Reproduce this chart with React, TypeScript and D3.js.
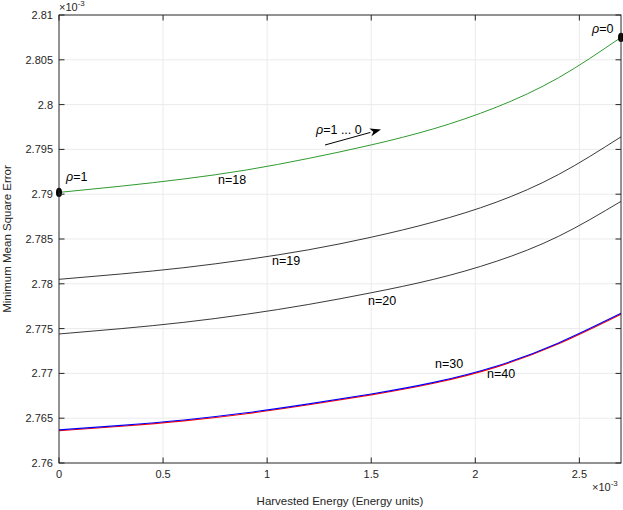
import { useEffect, useRef } from "react";
import * as d3 from "d3";

// harvested energy (x 1e-3)
const energy = [0, 0.3, 0.6, 0.9, 1.2, 1.5, 1.8, 2.1, 2.4, 2.7];

// minimum mean square error (x 1e-3)
const mmseRho = [2.7902, 2.7909, 2.7917, 2.7927, 2.794, 2.7955, 2.7973, 2.7997, 2.803, 2.8075];
const mmseN19 = [2.7805, 2.7811, 2.7818, 2.7827, 2.7838, 2.7852, 2.7869, 2.7891, 2.7922, 2.7964];
const mmseN20 = [2.7744, 2.775, 2.7757, 2.7766, 2.7777, 2.779, 2.7805, 2.7825, 2.7853, 2.7892];
const mmseN30 = [2.7637, 2.7642, 2.7648, 2.7656, 2.7666, 2.7677, 2.769, 2.7708, 2.7734, 2.7767];
const mmseN40 = [2.7636, 2.7641, 2.7647, 2.7655, 2.7665, 2.7676, 2.7689, 2.7707, 2.7733, 2.7766];

const xTicks = [0, 0.5, 1, 1.5, 2, 2.5];
const yTicks = [2.76, 2.765, 2.77, 2.775, 2.78, 2.785, 2.79, 2.795, 2.8, 2.805, 2.81];

const width = 623;
const height = 510;
const m = { top: 15, right: 2, bottom: 47, left: 59 };
const font = "'Liberation Sans', Arial, Helvetica, sans-serif";
const axisColor = "#262626";

export default function App() {
  const ref = useRef<SVGSVGElement | null>(null);

  useEffect(() => {
    if (!ref.current) return;
    const svg = d3.select(ref.current);
    svg.selectAll("*").remove();

    const x = d3.scaleLinear().domain([0, 2.7]).range([m.left, width - m.right]);
    const y = d3.scaleLinear().domain([2.76, 2.81]).range([height - m.bottom, m.top]);
    const [x0, x1] = x.range();
    const [y0, y1] = y.range();

    svg.append("rect").attr("x", x0).attr("y", y1).attr("width", x1 - x0).attr("height", y0 - y1).attr("fill", "#fff");

    // grid
    const grid = svg.append("g").attr("stroke", "#ebebeb").attr("stroke-width", 1);
    xTicks.slice(1).forEach((t) => {
      grid.append("line").attr("x1", x(t)).attr("x2", x(t)).attr("y1", y0).attr("y2", y1);
    });
    yTicks.slice(1, -1).forEach((t) => {
      grid.append("line").attr("x1", x0).attr("x2", x1).attr("y1", y(t)).attr("y2", y(t));
    });

    // curves
    const line = d3
      .line<number>()
      .x((_, i) => x(energy[i]))
      .y((d) => y(d))
      .curve(d3.curveNatural);

    const series: [number[], string, number][] = [
      [mmseRho, "#2f9a2f", 1],
      [mmseN19, "#222", 0.9],
      [mmseN20, "#222", 0.9],
      [mmseN40, "#ff0000", 1.1],
      [mmseN30, "#0000ff", 1.1],
    ];
    series.forEach(([vals, color, w]) => {
      svg.append("path").datum(vals).attr("d", line).attr("fill", "none").attr("stroke", color).attr("stroke-width", w);
    });

    // end markers on rho curve
    [0, energy.length - 1].forEach((i) => {
      svg.append("ellipse").attr("cx", x(energy[i])).attr("cy", y(mmseRho[i])).attr("rx", 3).attr("ry", 4.6).attr("fill", "#000");
    });

    // axes box with inward ticks
    const ax = svg.append("g").attr("stroke", axisColor).attr("stroke-width", 1).attr("fill", "none");
    ax.append("rect").attr("x", x0).attr("y", y1).attr("width", x1 - x0).attr("height", y0 - y1);
    const tl = 5.5;
    xTicks.forEach((t) => {
      ax.append("line").attr("x1", x(t)).attr("x2", x(t)).attr("y1", y0).attr("y2", y0 - tl);
      ax.append("line").attr("x1", x(t)).attr("x2", x(t)).attr("y1", y1).attr("y2", y1 + tl);
    });
    yTicks.forEach((t) => {
      ax.append("line").attr("x1", x0).attr("x2", x0 + tl).attr("y1", y(t)).attr("y2", y(t));
      ax.append("line").attr("x1", x1).attr("x2", x1 - tl).attr("y1", y(t)).attr("y2", y(t));
    });

    const txt = svg.append("g").attr("font-family", font).attr("fill", axisColor);
    xTicks.forEach((t) => {
      txt.append("text").attr("x", x(t)).attr("y", y0 + 15).attr("text-anchor", "middle").attr("font-size", 11).text(d3.format("~g")(t));
    });
    yTicks.forEach((t) => {
      txt.append("text").attr("x", x0 - 6).attr("y", y(t) + 4).attr("text-anchor", "end").attr("font-size", 11).text(d3.format("~g")(t));
    });

    // exponent labels
    const expo = (ex: number, ey: number) => {
      const t = txt.append("text").attr("x", ex).attr("y", ey).attr("font-size", 11);
      t.append("tspan").text("×10");
      t.append("tspan").attr("dy", -5).attr("font-size", 8).text("-3");
    };
    expo(x0, y1 - 4);
    expo(x1 - 29, y0 + 28);

    txt.append("text").attr("x", (x0 + x1) / 2).attr("y", 505).attr("text-anchor", "middle").attr("font-size", 11.5).text("Harvested Energy (Energy units)");
    txt
      .append("text")
      .attr("transform", `translate(11,${(y0 + y1) / 2}) rotate(-90)`)
      .attr("text-anchor", "middle")
      .attr("font-size", 11.5)
      .text("Minimum Mean Square Error");

    // annotations
    const ann = svg.append("g").attr("font-family", font).attr("fill", "#000").attr("font-size", 12.5);
    const rhoText = (tx: number, ty: number, rest: string) => {
      const t = ann.append("text").attr("x", tx).attr("y", ty);
      t.append("tspan").attr("font-style", "italic").text("ρ");
      t.append("tspan").text(rest);
    };
    rhoText(66, 181, "=1");
    rhoText(592, 33, "=0");
    rhoText(316, 134, "=1 ... 0");

    ann.append("text").attr("x", 218).attr("y", 184).text("n=18");
    ann.append("text").attr("x", 272).attr("y", 265).text("n=19");
    ann.append("text").attr("x", 368).attr("y", 305).text("n=20");
    ann.append("text").attr("x", 435).attr("y", 368).text("n=30");
    ann.append("text").attr("x", 487).attr("y", 378).text("n=40");

    // arrow
    const ax1 = 325, ay1 = 145, ax2 = 381, ay2 = 129.5;
    const ang = Math.atan2(ay2 - ay1, ax2 - ax1);
    const hl = 11, hw = 4;
    const bx = ax2 - hl * Math.cos(ang), by = ay2 - hl * Math.sin(ang);
    svg.append("line").attr("x1", ax1).attr("y1", ay1).attr("x2", bx).attr("y2", by).attr("stroke", "#000").attr("stroke-width", 1);
    svg
      .append("path")
      .attr(
        "d",
        `M${ax2},${ay2}L${bx + hw * Math.sin(ang)},${by - hw * Math.cos(ang)}L${bx + 3 * Math.cos(ang)},${by + 3 * Math.sin(ang)}L${bx - hw * Math.sin(ang)},${by + hw * Math.cos(ang)}Z`
      )
      .attr("fill", "#000");
  }, []);

  return (
    <div style={{ position: "absolute", left: 0, top: 0, background: "#fff" }}>
      <svg ref={ref} width={width} height={height} style={{ display: "block" }}></svg>
    </div>
  );
}
